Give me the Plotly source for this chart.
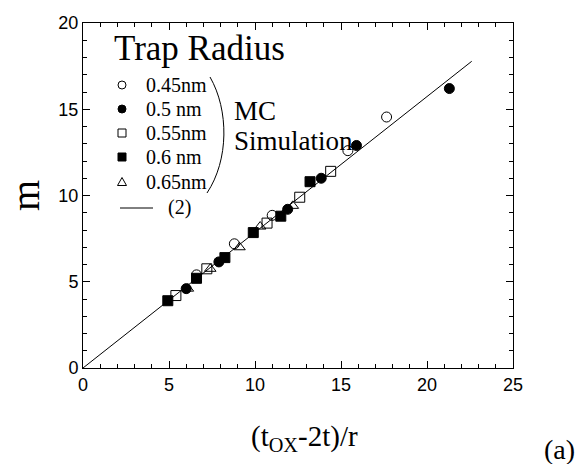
import plotly.graph_objects as go

# Data
x_045 = [6.6, 8.8, 11.0, 15.4, 17.65]
y_045 = [5.4, 7.2, 8.85, 12.6, 14.55]

x_050 = [6.0, 7.9, 11.9, 13.85, 15.9, 21.3]
y_050 = [4.6, 6.15, 9.2, 11.0, 12.9, 16.2]

x_055 = [5.4, 7.2, 10.7, 12.6, 14.4]
y_055 = [4.2, 5.75, 8.4, 9.9, 11.4]

x_060 = [4.93, 6.6, 8.25, 9.9, 11.5, 13.2]
y_060 = [3.9, 5.2, 6.4, 7.85, 8.8, 10.8]

x_065 = [6.1, 7.4, 9.1, 10.3, 12.2]
y_065 = [4.6, 5.75, 7.0, 8.2, 9.4]

line_x = [0, 22.6]
line_y = [0, 17.78]

series_names = ["0.45nm", "0.5 nm", "0.55nm", "0.6 nm", "0.65nm"]
line_name = "(2)"
x_ticks = [0, 5, 10, 15, 20, 25]
y_ticks = [0, 5, 10, 15, 20]

SERIF = "Liberation Serif, Times New Roman, serif"
SANS = "Liberation Sans, Arial, sans-serif"

# plot-area geometry (pixels) used for placing the hand-drawn legend
L, T, W, H = 83, 23, 430, 345


def ppx(px):
    return (px - L) / W


def ppy(py):
    return (T + H - py) / H


fig = go.Figure()
symbols = ["circle-open", "circle", "square-open", "square", "triangle-up-open"]
data = [(x_045, y_045), (x_050, y_050), (x_055, y_055), (x_060, y_060), (x_065, y_065)]
for (xs, ys), name, sym in zip(data, series_names, symbols):
    fig.add_trace(go.Scatter(
        x=xs, y=ys, mode="markers", name=name, showlegend=False,
        marker=dict(symbol=sym, size=10, color="black", line=dict(color="black", width=1)),
    ))
fig.add_trace(go.Scatter(x=line_x, y=line_y, mode="lines", name=line_name, showlegend=False,
                         line=dict(color="black", width=1)))

axis_common = dict(
    showline=True, linecolor="black", linewidth=1, mirror="allticks",
    ticks="inside", ticklen=7, tickcolor="black", tickwidth=1,
    showgrid=False, zeroline=False,
    tickfont=dict(family=SANS, size=18, color="black"),
    minor=dict(ticks="inside", ticklen=4, dtick=1, tickcolor="black", showgrid=False),
)
fig.update_xaxes(range=[0, 25], tickvals=x_ticks, **axis_common)
fig.update_yaxes(range=[0, 20], tickvals=y_ticks, **axis_common)

# --- hand-drawn legend (key symbols as shapes, labels as text) ---
row_y = [85, 109, 133, 157, 182]
key_x = 122
for yy, name, sym in zip(row_y, series_names, symbols):
    common = dict(xref="paper", yref="paper", xsizemode="pixel", ysizemode="pixel",
                  xanchor=ppx(key_x), yanchor=ppy(yy), line=dict(color="black", width=1))
    if sym.startswith("circle"):
        fig.add_shape(type="circle", x0=-4, x1=4, y0=-4, y1=4,
                      fillcolor="black" if sym == "circle" else "white", **common)
    elif sym.startswith("square"):
        fig.add_shape(type="rect", x0=-4, x1=4, y0=-4, y1=4,
                      fillcolor="black" if sym == "square" else "white", **common)
    else:
        fig.add_shape(type="path", path="M -4.5,-3.5 L 4.5,-3.5 L 0,4.5 Z",
                      fillcolor="white", **common)
    fig.add_annotation(x=ppx(144), y=ppy(yy), xref="paper", yref="paper", text=name,
                       showarrow=False, xanchor="left", yanchor="middle",
                       font=dict(family=SERIF, size=20, color="black"))
# line key
fig.add_shape(type="line", xref="paper", yref="paper", x0=ppx(120), x1=ppx(153),
              y0=ppy(208), y1=ppy(208), line=dict(color="black", width=1))
fig.add_annotation(x=ppx(166), y=ppy(208), xref="paper", yref="paper", text=line_name,
                   showarrow=False, xanchor="left", yanchor="middle",
                   font=dict(family=SERIF, size=20, color="black"))

fig.add_annotation(x=ppx(112), y=ppy(48), xref="paper", yref="paper", text="Trap Radius",
                   showarrow=False, xanchor="left", yanchor="middle",
                   font=dict(family=SERIF, size=35, color="black"))
fig.add_annotation(x=ppx(232), y=ppy(111), xref="paper", yref="paper", text="MC",
                   showarrow=False, xanchor="left", yanchor="middle",
                   font=dict(family=SERIF, size=27, color="black"))
fig.add_annotation(x=ppx(232), y=ppy(141), xref="paper", yref="paper", text="Simulation",
                   showarrow=False, xanchor="left", yanchor="middle",
                   font=dict(family=SERIF, size=27, color="black"))

# bracket
fig.add_shape(type="path", xref="paper", yref="paper",
              path=(f"M {ppx(210)},{ppy(77)} C {ppx(229)},{ppy(110)} "
                    f"{ppx(229)},{ppy(160)} {ppx(207)},{ppy(193)}"),
              line=dict(color="black", width=1))

# axis titles
fig.add_annotation(x=ppx(25), y=ppy(195), xref="paper", yref="paper", text="m",
                   textangle=-90, showarrow=False, xanchor="center", yanchor="middle",
                   font=dict(family=SERIF, size=40, color="black"))
fig.add_annotation(x=ppx(304), y=ppy(418), xref="paper", yref="paper",
                   text="(t<sub>OX</sub>-2t)/r", showarrow=False,
                   xanchor="center", yanchor="top",
                   font=dict(family=SERIF, size=29, color="black"))
fig.add_annotation(x=ppx(559), y=ppy(449), xref="paper", yref="paper", text="(a)",
                   showarrow=False, xanchor="center", yanchor="middle",
                   font=dict(family=SERIF, size=28, color="black"))

fig.update_layout(
    width=580, height=464,
    margin=dict(l=L, r=580 - L - W, t=T, b=464 - T - H),
    paper_bgcolor="white", plot_bgcolor="white",
    showlegend=False,
)

fig.write_html("out.html", config={"displayModeBar": False},
               post_script="document.body.style.margin='0px';")
